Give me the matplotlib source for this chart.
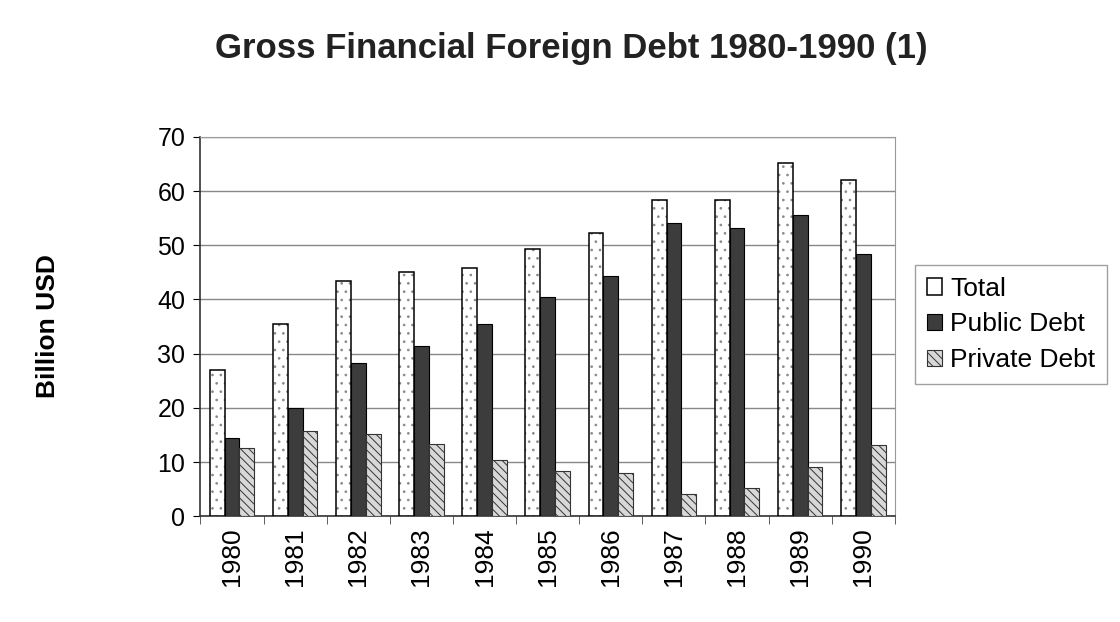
import numpy as np
import matplotlib.pyplot as plt

plt.rcParams['font.family'] = ['Liberation Sans', 'DejaVu Sans']
plt.rcParams['hatch.linewidth'] = 0.7

years = ['1980', '1981', '1982', '1983', '1984', '1985', '1986', '1987', '1988', '1989', '1990']
total = [27.0, 35.4, 43.4, 45.0, 45.8, 49.3, 52.3, 58.4, 58.4, 65.1, 62.0]
public_debt = [14.5, 20.0, 28.3, 31.4, 35.4, 40.5, 44.3, 54.1, 53.1, 55.6, 48.4]
private_debt = [12.6, 15.8, 15.1, 13.4, 10.4, 8.4, 8.0, 4.1, 5.2, 9.0, 13.2]

fig = plt.figure(figsize=(11.2, 6.22), dpi=100)
ax = fig.add_axes([0.179, 0.170, 0.620, 0.610])

x = np.arange(len(years))
w = 0.235
# dotted fill first, then a plain black outline on top
ax.bar(x - w, total, w, color='white', edgecolor='#8a8a8a', linewidth=0,
       hatch='..', zorder=3)
ax.bar(x - w, total, w, fill=False, edgecolor='black', linewidth=1.1,
       label='Total', zorder=4)
ax.bar(x, public_debt, w, color='#3c3c3c', edgecolor='black', linewidth=0.8,
       label='Public Debt', zorder=3)
ax.bar(x + w, private_debt, w, color='#d8d8d8', edgecolor='#333333', linewidth=0.8,
       hatch='\\\\\\\\', label='Private Debt', zorder=3)

ax.set_xlim(-0.5, len(years) - 0.5)
ax.set_ylim(0, 70)
ax.set_yticks(range(0, 71, 10))
ax.yaxis.grid(True, color='#888888', linewidth=1.0, zorder=0)
ax.set_axisbelow(True)

ax.set_xticks(x)
ax.set_xticklabels(years, rotation=90, fontsize=19)
ax.set_xticks(np.arange(-0.5, len(years), 1), minor=True)
ax.tick_params(axis='x', which='major', length=0, pad=8)
ax.tick_params(axis='x', which='minor', length=6, color='#444444')
ax.tick_params(axis='y', labelsize=18, length=5, pad=6)

for side in ['top', 'right']:
    ax.spines[side].set_color('#999999')
ax.spines['left'].set_color('#333333')
ax.spines['bottom'].set_color('#333333')
ax.spines['left'].set_linewidth(1.2)
ax.spines['bottom'].set_linewidth(1.2)

ax.set_ylabel('Billion USD', fontsize=19, fontweight='bold', labelpad=70)

fig.suptitle('Gross Financial Foreign Debt 1980-1990 (1)', fontsize=25,
             fontweight='bold', x=0.51, y=0.948, color='#222222')

leg = fig.legend(loc='upper left', bbox_to_anchor=(0.812, 0.583), fontsize=19,
                 frameon=True, fancybox=False, edgecolor='#888888',
                 handlelength=0.6, handleheight=0.6, handletextpad=0.3,
                 labelspacing=0.45, borderpad=0.45, borderaxespad=0.2)

fig.savefig('out.png', dpi=100)
